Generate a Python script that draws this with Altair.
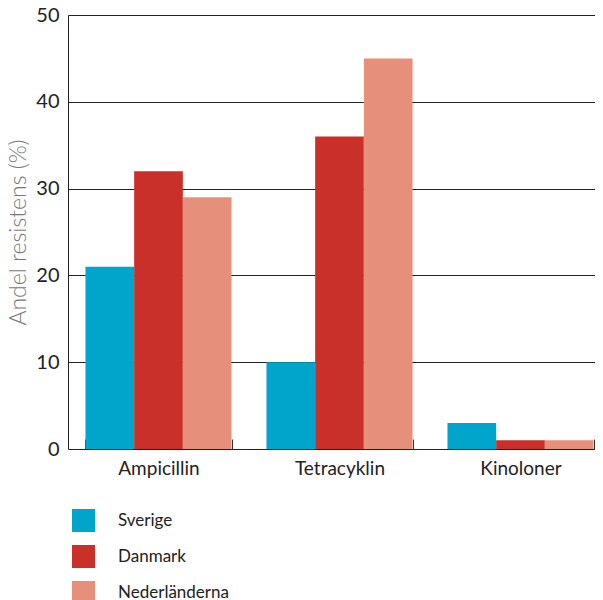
import altair as alt
import pandas as pd

categories = ["Ampicillin", "Tetracyklin", "Kinoloner"]
series = ["Sverige", "Danmark", "Nederländerna"]
sverige = [21, 10, 3]
danmark = [32, 36, 1]
nederlanderna = [29, 45, 1]
colors = ["#00a5cc", "#c9302a", "#e6907b"]
y_ticks = [0, 10, 20, 30, 40, 50]

rows = []
for name, vals in zip(series, [sverige, danmark, nederlanderna]):
    for c, v in zip(categories, vals):
        rows.append({"Antibiotika": c, "Land": name, "Andel": v})
df = pd.DataFrame(rows)

FONT = "Lato"

chart = alt.Chart(df).mark_bar().encode(
    x=alt.X(
        "Antibiotika:N",
        sort=categories,
        scale=alt.Scale(range=[0, 543], paddingInner=0.193, paddingOuter=0.0965),
        axis=alt.Axis(
            title=None, orient="bottom", offset=-10, domain=False, ticks=True,
            tickSize=10, tickColor="#333333", tickWidth=1, tickBand="extent",
            labelFontSize=19, labelFont=FONT, labelColor="#222222",
            labelPadding=10, labelAngle=0, grid=False,
        ),
    ),
    xOffset=alt.XOffset("Land:N", sort=series, scale=alt.Scale(paddingInner=0, paddingOuter=0)),
    y=alt.Y(
        "Andel:Q",
        scale=alt.Scale(domain=[0, 50], nice=False),
        axis=alt.Axis(
            title="Andel resistens (%)", values=y_ticks, grid=True,
            gridColor="#222222", gridOpacity=1, gridWidth=1,
            domain=True, domainColor="#222222", domainWidth=1,
            ticks=False, labelFontSize=20, labelFont=FONT, labelColor="#222222",
            labelPadding=9, titleFont=FONT, titleFontSize=23, titleFontWeight=300,
            titleColor="#777777", titlePadding=5,
        ),
    ),
    color=alt.Color(
        "Land:N",
        sort=series,
        scale=alt.Scale(domain=series, range=colors),
        legend=alt.Legend(
            title=None, orient="none", legendX=4, legendY=494,
            symbolType="square", symbolSize=529, symbolStrokeWidth=0,
            labelFontSize=17, labelFont=FONT, labelColor="#222222",
            labelOffset=23, rowPadding=13, padding=0,
        ),
    ),
).properties(
    width=527, height=434,
    autosize=alt.AutoSizeParams(type="none"),
    padding={"left": 60, "top": 7, "right": 0, "bottom": 159},
).configure_view(stroke=None)

chart.save("out.html", embed_options={"renderer": "svg", "actions": False})
